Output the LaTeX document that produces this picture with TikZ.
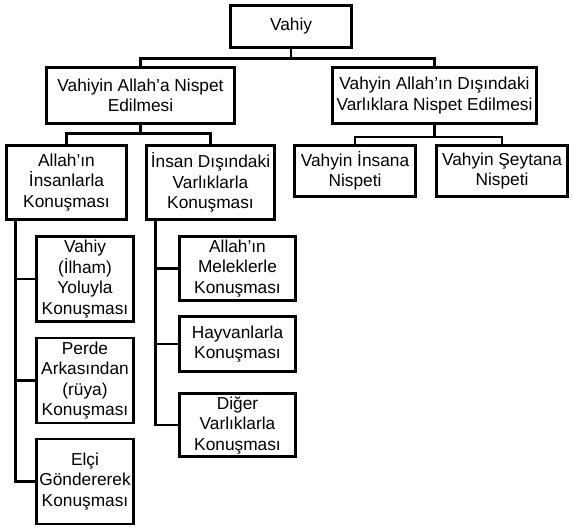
\documentclass[tikz,border=0pt]{standalone}
\usepackage{fontspec}
\setmainfont{Liberation Sans}
\tikzset{
box/.style={draw, line width=2.9pt, align=center, inner sep=1pt, font=\fontsize{17.3}{20.5}\selectfont}, % every box of the tree
leaf/.style={box, minimum width=97pt}, % the narrow boxes at the bottom
link/.style={line width=2.9pt, line join=miter}, % the elbow lines
}
\begin{document}
\begin{tikzpicture}[x=1pt, y=-1pt]
\useasboundingbox (0,0) rectangle (573,528);
% top levels
\node[box, minimum width=121pt, minimum height=42pt] (vahiy) at (291,26.5) {Vahiy};
\node[box, minimum width=188pt, minimum height=56pt] (allah) at (140.5,95.5) {Vahiyin Allah’a Nispet\\Edilmesi};
\node[box, minimum width=204pt, minimum height=56pt] (disinda) at (434.5,95.5) {Vahyin Allah’ın Dışındaki\\Varlıklara Nispet Edilmesi};
\node[box, minimum width=120pt, minimum height=74pt] (insanlarla) at (66.5,182.5) {Allah’ın\\İnsanlarla\\Konuşması};
\node[box, minimum width=128pt, minimum height=74pt] (insandisi) at (210.5,182.5) {İnsan Dışındaki\\Varlıklarla\\Konuşması};
\node[box, minimum width=121pt, minimum height=51pt] (insana) at (355,171) {Vahyin İnsana\\Nispeti};
\node[box, minimum width=131pt, minimum height=51pt] (seytana) at (502,171) {Vahyin Şeytana\\Nispeti};
% left column
\node[leaf, minimum height=85pt] (ilham) at (85,279) {Vahiy\\(İlham)\\Yoluyla\\Konuşması};
\node[leaf, minimum height=85pt, below of=ilham, node distance=101.5pt] (perde) {Perde\\Arkasından\\(rüya)\\Konuşması};
\node[leaf, minimum height=85pt, below of=perde, node distance=101pt] (elci) {Elçi\\Göndererek\\Konuşması};
% right column
\node[leaf, minimum width=116pt, minimum height=64pt] (melek) at (237.5,268.5) {Allah’ın\\Meleklerle\\Konuşması};
\node[leaf, minimum width=116pt, minimum height=55pt, below of=melek, node distance=75.5pt] (hayvan) {Hayvanlarla\\Konuşması};
\node[leaf, minimum width=116pt, minimum height=63pt, below of=hayvan, node distance=81pt] (diger) {Diğer\\Varlıklarla\\Konuşması};

\draw[link] (vahiy.south) -- ++(0,9.5) -| (allah.north);
\draw[link] (vahiy.south) -- ++(0,9.5) -| (disinda.north);
\draw[link] (allah.south) -- ++(0,8.5) -| (insanlarla.north);
\draw[link] (allah.south) -- ++(0,8.5) -| (insandisi.north);
\draw[link] (disinda.south) -- ++(0,12) -| (insana.north);
\draw[link] (disinda.south) -- ++(0,12) -| (seytana.north);
\draw[link] ([xshift=10.5pt]insanlarla.south west) |- (ilham.west);
\draw[link] ([xshift=10.5pt]insanlarla.south west) |- (perde.west);
\draw[link] ([xshift=10.5pt]insanlarla.south west) |- (elci.west);
\draw[link] ([xshift=10.5pt]insandisi.south west) |- (melek.west);
\draw[link] ([xshift=10.5pt]insandisi.south west) |- (hayvan.west);
\draw[link] ([xshift=10.5pt]insandisi.south west) |- (diger.west);
\end{tikzpicture}
\end{document}
